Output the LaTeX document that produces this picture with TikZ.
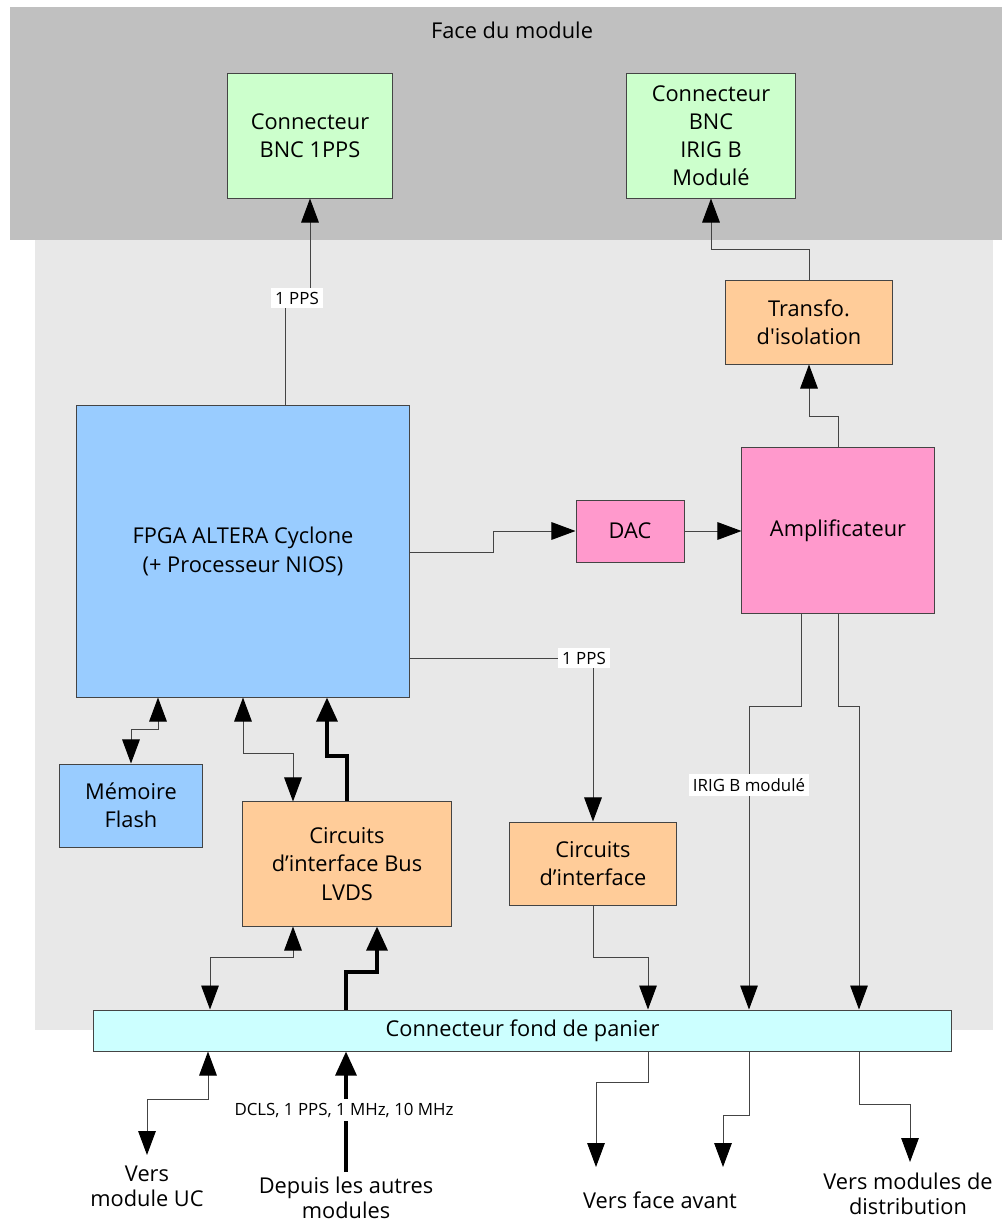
\documentclass[tikz,border=0pt]{standalone}
\usepackage{fontspec}
\setmainfont{Open Sans}
\usepackage{tikz}
\usetikzlibrary{positioning, arrows.meta, calc}
\definecolor{mdface}{HTML}{C0C0C0}
\definecolor{mdbody}{HTML}{E8E8E8}
\definecolor{mdgreen}{HTML}{CCFFCC}
\definecolor{mdblue}{HTML}{99CCFF}
\definecolor{mdorange}{HTML}{FFCC99}
\definecolor{mdpink}{HTML}{FF99CC}
\definecolor{mdcyan}{HTML}{CCFFFF}
\definecolor{mdline}{HTML}{444444}

\begin{document}
\begin{tikzpicture}[
  x=0.025cm, y=-0.025cm,
  bloc/.style={
    rectangle, draw=mdline, line width=0.7pt, align=center,
    inner sep=2pt, font=\fontsize{15.5}{20}\selectfont
  },
  txt/.style={align=center, inner sep=0pt, font=\fontsize{15.5}{18}\selectfont},
  lbl/.style={fill=white, inner sep=3pt, font=\fontsize{12}{13}\selectfont},
  arr/.style={-{Triangle[length=0.6cm, width=0.44cm, black]}, draw=mdline, line width=0.7pt},
  biarr/.style={{Triangle[length=0.6cm, width=0.44cm, black]}-{Triangle[length=0.6cm, width=0.44cm, black]},
    draw=mdline, line width=0.7pt},
  bus/.style={-{Triangle[length=0.6cm, width=0.52cm]}, draw=black, line width=2.6pt},
]
\useasboundingbox (0,0) rectangle (1002,1227);

% Zones
\fill[mdface] (10,7) rectangle (1002,240);
\fill[mdbody] (35,240) rectangle (993,1030);
\node[txt] (face) at (512,30) {Face du module};

% Blocs
\node[bloc, fill=mdgreen, minimum width=4.1cm, minimum height=3.1cm] (bnc1) at (310,136) {Connecteur\\BNC 1PPS};
\node[bloc, fill=mdgreen, minimum width=4.2cm, minimum height=3.1cm] (bnc2) at (711,136) {Connecteur\\BNC\\IRIG B\\Modulé};
\node[bloc, fill=mdorange, minimum width=4.15cm, minimum height=2.075cm] (transfo) at (809,322.5) {Transfo.\\d\textquotesingle isolation};
\node[bloc, fill=mdpink, minimum width=4.8cm, minimum height=4.125cm] (ampli) at (838,530.5) {Amplificateur};
\node[bloc, fill=mdpink, minimum width=2.7cm, minimum height=1.55cm] (dac) at (630,531) {DAC};
\node[bloc, fill=mdblue, minimum width=8.3cm, minimum height=7.275cm] (fpga) at (243,551.5) {FPGA ALTERA Cyclone\\(+ Processeur NIOS)};
\node[bloc, fill=mdblue, minimum width=3.55cm, minimum height=2.075cm] (flash) at (131,805.5) {Mémoire\\Flash};
\node[bloc, fill=mdorange, minimum width=5.2cm, minimum height=3.1cm] (lvds) at (347,864) {Circuits\\d’interface Bus\\LVDS};
\node[bloc, fill=mdorange, minimum width=4.15cm, minimum height=2.075cm] (circ) at (593,863.5) {Circuits\\d’interface};
\node[bloc, fill=mdcyan, minimum width=21.425cm, minimum height=1.025cm] (fond) at (522.5,1030.5) {Connecteur fond de panier};

% Extremites libres
\coordinate (kpps) at (297,298);
\coordinate (uc) at (147,1155);
\coordinate (dep) at (346,1172);
\coordinate (fav1) at (596,1167);
\coordinate (fav2) at (723,1167);
\coordinate (dist) at (910,1162);

% Liaisons
\draw[arr] (fpga.north -| 285,0) |- (kpps) -| (bnc1.south);
\draw[arr] (transfo.north) -- ++(0,-31) -| (bnc2.south);
\draw[arr] (ampli.north) -- ++(0,-31) -| (transfo.south);
\draw[arr] (fpga.east |- 0,552) -- (493,552) |- (dac.west);
\draw[arr] (dac.east) -- (ampli.west |- dac.east);
\draw[arr] (fpga.east |- 0,658) -| (circ.north);
\draw[arr] (ampli.south -| 801,0) |- (749,706) -- (fond.north -| 749,0);
\draw[arr] (ampli.south) |- (859,706) -- (fond.north -| 859,0);
\draw[arr] (circ.south) |- (648,957) -- (fond.north -| 648,0);
\draw[biarr] (flash.north) |- (158,729) -- (fpga.south -| 158,0);
\draw[biarr] (fpga.south -| 243,0) |- (293,753) -- (lvds.north -| 293,0);
\draw[bus] (lvds.north) |- (327,756) -- (fpga.south -| 327,0);
\draw[biarr] (lvds.south -| 293,0) |- (210,957) -- (fond.north -| 210,0);
\draw[bus] (fond.north -| 346,0) |- (377,972) -- (lvds.south -| 377,0);

% Sorties
\draw[biarr] (fond.south -| 208,0) |- (147,1099) -- (uc);
\draw[bus] (dep) -- (fond.south -| 346,0);
\draw[arr] (fond.south -| 648,0) |- (596,1082) -- (fav1);
\draw[arr] (fond.south -| 749,0) |- (723,1115) -- (fav2);
\draw[arr] (fond.south -| 859,0) |- (910,1104) -- (dist);

% Etiquettes
\node[lbl] (ppsa) at (kpps) {1 PPS};
\node[lbl] (ppsb) at (584,658) {1 PPS};
\node[lbl] (irig) at (749,785) {IRIG B modulé};
\node[lbl] (sig) at (344,1110) {DCLS, 1 PPS, 1 MHz, 10 MHz};

\node[txt] (tuc) at (147,1186) {Vers\\module UC};
\node[txt] (tdep) at (346,1198) {Depuis les autres\\modules};
\node[txt] (tfav) at (660,1200) {Vers face avant};
\node[txt] (tdist) at (908,1194) {Vers modules de\\distribution};

\end{tikzpicture}
\end{document}
